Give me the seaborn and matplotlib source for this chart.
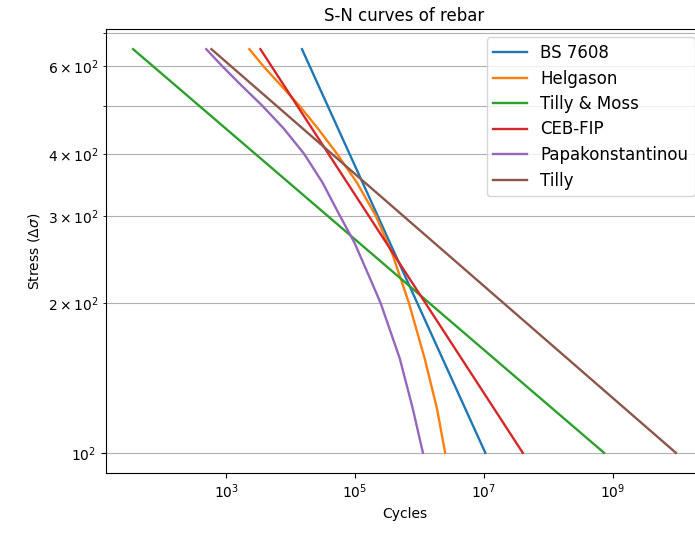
import pandas as pd
import matplotlib
matplotlib.use('Agg')
import matplotlib.pyplot as plt
from matplotlib.ticker import NullLocator
import seaborn as sns

# values (stress in MPa, cycles N)
bs7608_stress = [650, 100]
bs7608_cycles = [1.5e4, 1.05e7]

helgason_stress = [650, 600, 500, 450, 400, 350, 300, 250, 200, 155, 123,
                   100]
helgason_cycles = [2.29e3, 3.81e3, 1.37e4, 2.65e4, 5.25e4, 1.07e5, 2.1e5,
                   3.85e5, 6.87e5, 1.2e6, 1.86e6, 2.5e6]

tilly_moss_stress = [650, 100]
tilly_moss_cycles = [36, 7.3e8]

cebfip_stress = [650, 100]
cebfip_cycles = [3.4e3, 4.0e7]

papa_stress = [650, 600, 550, 500, 450, 400, 350, 300, 265, 224, 200, 155,
               123, 100]
papa_cycles = [491, 877, 1.71e3, 3.64e3, 7.8e3, 1.62e4, 3.13e4, 5.83e4,
               9.78e4, 1.72e5, 2.5e5, 4.93e5, 7.83e5, 1.13e6]

tilly_stress = [650, 100]
tilly_cycles = [590, 9.5e9]

names = ['BS 7608', 'Helgason', 'Tilly & Moss', 'CEB-FIP',
         'Papakonstantinou', 'Tilly']

x_ticks = [1e3, 1e5, 1e7, 1e9]


def to_frame():
    '''
    build one long dataframe with all curves
    '''
    pairs = [
        (bs7608_cycles, bs7608_stress),
        (helgason_cycles, helgason_stress),
        (tilly_moss_cycles, tilly_moss_stress),
        (cebfip_cycles, cebfip_stress),
        (papa_cycles, papa_stress),
        (tilly_cycles, tilly_stress)]
    frames = []
    for name, (n, s) in zip(names, pairs):
        frames.append(pd.DataFrame({'Cycles': n, 'Stress': s, 'curve': name}))
    return pd.concat(frames, ignore_index=True)


df = to_frame()

fig = plt.figure(figsize=(6.95, 5.35), dpi=100)
ax = fig.add_axes([106 / 695, 62 / 535, 597 / 695, 444 / 535])
ax.set_xscale('log')
ax.set_yscale('log')

sns.lineplot(
    data=df, x='Cycles', y='Stress', hue='curve', hue_order=names,
    palette='tab10', estimator=None, sort=False, linewidth=1.7, ax=ax)

ax.set_xticks(x_ticks)
ax.xaxis.set_minor_locator(NullLocator())
ax.grid(True, axis='y', which='both')
ax.set_title('S-N curves of rebar')
ax.set_xlabel('Cycles')
ax.set_ylabel(r'Stress ($\Delta\sigma$)')
ax.legend(loc='upper right', fontsize=12, labelspacing=0.45)

fig.savefig('out.png', dpi=100)
